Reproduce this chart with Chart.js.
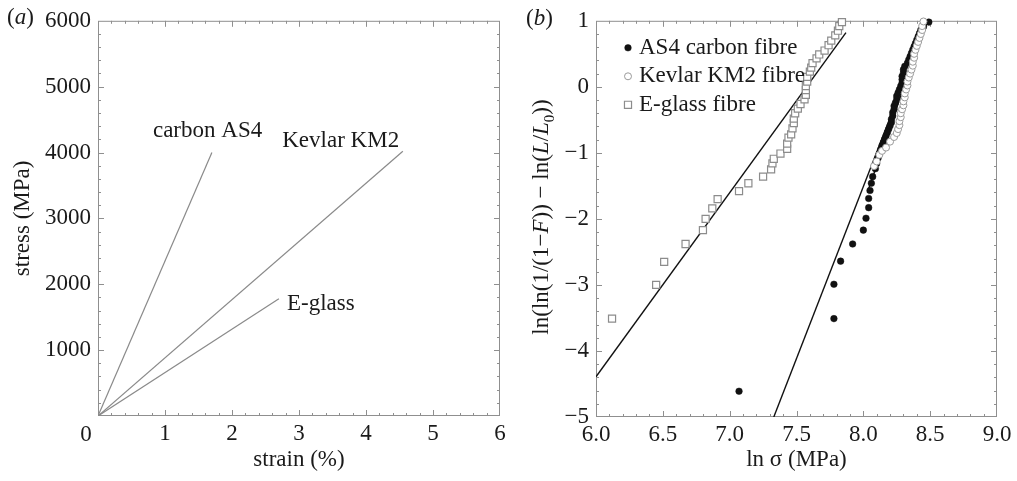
<!DOCTYPE html>
<html>
<head>
<meta charset="utf-8">
<script src="https://cdn.jsdelivr.net/npm/chart.js@4.4.0/dist/chart.umd.min.js"></script>
<style>
  body { margin: 0; background: #fff; width: 1017px; height: 481px; position: relative; overflow: hidden;
         font-family: 'Liberation Serif', serif; color: #1a1a1a; }
  canvas { position: absolute; top: 0; }
  #leftChart { left: 0; }
  #rightChart { left: 500px; }
  .tag { position: absolute; font-size: 23px; line-height: 23px; }
  #yTitleB { position: absolute; left: 545px; top: 217px; font-size: 23px; line-height: 23px; white-space: nowrap;
             transform: translate(-50%, -50%) rotate(-90deg); }
  #yTitleB sub { font-size: 15px; }
</style>
</head>
<body>
<canvas id="leftChart" width="520" height="481"></canvas>
<canvas id="rightChart" width="517" height="481"></canvas>
<div class="tag" style="left:7px;top:5px">(<i>a</i>)</div>
<div class="tag" style="left:526px;top:6px">(<i>b</i>)</div>
<div id="yTitleB">ln(ln(1/(1−<i>F</i>)) − ln(<i>L</i>/<i>L</i><sub>0</sub>))</div>
<script>
// (a) stress-strain curves
const carbonStrain = [0, 1.70];
const carbonStress = [0, 4000];
const kevlarStrain = [0, 4.55];
const kevlarStress = [0, 4020];
const glassStrain = [0, 2.70];
const glassStress = [0, 1780];
const curveNames = ['carbon AS4', 'Kevlar KM2', 'E-glass'];
const nameStrain = [0.82, 2.75, 2.82];
const nameStress = [4330, 4180, 1700];

// (b) Weibull plot, x = ln sigma, y = ln(ln(1/(1-F))) - ln(L/L0)
const as4LnS = [7.07, 7.78, 7.78, 7.83, 7.92, 8.00, 8.02, 8.04, 8.04, 8.05, 8.06, 8.07, 8.09, 8.10,
  8.11, 8.12, 8.13, 8.14, 8.15, 8.16, 8.17, 8.18, 8.19, 8.20, 8.21, 8.21, 8.22, 8.22, 8.23, 8.23,
  8.24, 8.25, 8.25, 8.26, 8.27, 8.28, 8.29, 8.29, 8.29, 8.30, 8.30, 8.31, 8.33, 8.34, 8.35, 8.36,
  8.37, 8.38, 8.39, 8.40, 8.41, 8.42, 8.43, 8.45, 8.49];
const as4W = [-4.61, -3.51, -2.99, -2.64, -2.38, -2.17, -1.99, -1.83, -1.69, -1.57, -1.46, -1.36, -1.24, -1.16,
  -1.08, -1.01, -0.95, -0.89, -0.84, -0.79, -0.74, -0.69, -0.64, -0.59, -0.54, -0.49, -0.44, -0.39, -0.34, -0.29,
  -0.24, -0.19, -0.14, -0.09, -0.04, 0.01, 0.06, 0.11, 0.16, 0.21, 0.26, 0.31, 0.36, 0.41, 0.46, 0.51,
  0.56, 0.61, 0.66, 0.71, 0.76, 0.81, 0.86, 0.91, 0.98];
const kevlarLnS = [8.08, 8.10, 8.12, 8.14, 8.17, 8.20, 8.23, 8.25, 8.26, 8.27, 8.27, 8.28, 8.28, 8.29, 8.30, 8.30,
  8.31, 8.31, 8.32, 8.33, 8.33, 8.34, 8.35, 8.36, 8.37, 8.37, 8.38, 8.38, 8.39, 8.40, 8.41, 8.42, 8.43, 8.44, 8.44, 8.45];
const kevlarW = [-1.20, -1.13, -1.03, -0.97, -0.92, -0.83, -0.76, -0.70, -0.64, -0.58, -0.52, -0.46, -0.40, -0.34, -0.28, -0.22,
  -0.16, -0.10, -0.04, 0.02, 0.08, 0.14, 0.20, 0.26, 0.32, 0.38, 0.44, 0.50, 0.56, 0.62, 0.68, 0.74, 0.80, 0.86, 0.92, 0.99];
const glassLnS = [6.12, 6.45, 6.51, 6.67, 6.80, 6.82, 6.87, 6.91, 7.07, 7.14, 7.25, 7.31, 7.32, 7.33, 7.38, 7.43,
  7.43, 7.44, 7.46, 7.47, 7.48, 7.48, 7.49, 7.51, 7.53, 7.56, 7.57, 7.57, 7.57, 7.58, 7.58, 7.60, 7.61, 7.62,
  7.65, 7.67, 7.71, 7.74, 7.76, 7.79, 7.81, 7.82, 7.84];
const glassW = [-3.51, -3.00, -2.65, -2.38, -2.17, -2.00, -1.84, -1.70, -1.58, -1.46, -1.36, -1.25, -1.16, -1.09, -1.01, -0.94,
  -0.86, -0.77, -0.72, -0.63, -0.55, -0.48, -0.40, -0.33, -0.26, -0.19, -0.12, -0.05, 0.01, 0.08, 0.15, 0.23, 0.29, 0.36,
  0.43, 0.49, 0.55, 0.63, 0.70, 0.78, 0.85, 0.92, 0.98];
// fitted lines
const as4FitX = [7.33, 8.48];
const as4FitY = [-5.0, 0.99];
const kevlarFitX = [8.03, 8.47];
const kevlarFitY = [-1.6, 0.97];
const glassFitX = [6.0, 7.87];
const glassFitY = [-4.39, 0.82];
const seriesNames = ['AS4 carbon fibre', 'Kevlar KM2 fibre', 'E-glass fibre'];

const pts = (xs, ys) => xs.map((v, i) => ({x: v, y: ys[i]}));
const FONT = "'Liberation Serif', serif";
const INK = '#1a1a1a';
const FRAME = '#8f8f8f';

Chart.defaults.font.family = FONT;
Chart.defaults.font.size = 23;
Chart.defaults.color = INK;

// frame with inward ticks on all four sides
const frameTicks = {
  id: 'frameTicks',
  beforeDatasetsDraw(chart, args, o) {
    const {ctx, chartArea: a} = chart;
    const xs = chart.scales.x, ys = chart.scales.y;
    ctx.save();
    ctx.strokeStyle = FRAME;
    ctx.lineWidth = 1;
    ctx.strokeRect(a.left + 0.5, a.top + 0.5, a.right - a.left - 1, a.bottom - a.top - 1);
    ctx.beginPath();
    const nx = Math.round((xs.max - xs.min) / o.xStep);
    for (let i = 1; i < nx; i++) {
      const px = Math.round(xs.getPixelForValue(xs.min + i * o.xStep)) + 0.5;
      const len = i % 5 === 0 ? 6 : 3;
      ctx.moveTo(px, a.bottom); ctx.lineTo(px, a.bottom - len);
      ctx.moveTo(px, a.top); ctx.lineTo(px, a.top + len);
    }
    const ny = Math.round((ys.max - ys.min) / o.yStep);
    for (let i = 1; i < ny; i++) {
      const py = Math.round(ys.getPixelForValue(ys.min + i * o.yStep)) + 0.5;
      const len = i % 5 === 0 ? 6 : 3;
      ctx.moveTo(a.left, py); ctx.lineTo(a.left + len, py);
      ctx.moveTo(a.right, py); ctx.lineTo(a.right - len, py);
    }
    ctx.stroke();
    ctx.restore();
  }
};

// curve names and the origin "0" for panel (a)
const curveNotes = {
  id: 'curveNotes',
  afterDatasetsDraw(chart) {
    const {ctx, chartArea: a, scales: {x, y}} = chart;
    ctx.save();
    ctx.font = '23px ' + FONT;
    ctx.fillStyle = INK;
    ctx.textBaseline = 'middle';
    curveNames.forEach((t, i) => ctx.fillText(t, x.getPixelForValue(nameStrain[i]), y.getPixelForValue(nameStress[i])));
    ctx.textAlign = 'center';
    ctx.fillText('0', x.getPixelForValue(0) - 12, a.bottom + 19);
    ctx.restore();
  }
};

// legend inside the plot for panel (b)
const insideLegend = {
  id: 'insideLegend',
  afterDraw(chart) {
    const {ctx, chartArea: a} = chart;
    ctx.save();
    ctx.font = '23px ' + FONT;
    ctx.textBaseline = 'middle';
    chart.data.datasets.filter(d => d.inLegend).forEach((d, i) => {
      const yy = a.top + 27 + i * 28.5;
      ctx.fillStyle = d.backgroundColor;
      ctx.strokeStyle = d.borderColor;
      ctx.lineWidth = d.borderWidth;
      Chart.helpers.drawPoint(ctx, {pointStyle: d.pointStyle, radius: d.pointRadius, rotation: 0, borderWidth: d.borderWidth}, a.left + 32, yy);
      ctx.fillStyle = INK;
      ctx.fillText(d.label, a.left + 43, yy);
    });
    ctx.restore();
  }
};

const curve = (label, xs, ys) => ({
  label, data: pts(xs, ys), showLine: true, borderColor: '#8a8a8a', borderWidth: 1.2, pointRadius: 0
});

new Chart(document.getElementById('leftChart'), {
  type: 'scatter',
  data: {
    datasets: [
      curve(curveNames[0], carbonStrain, carbonStress),
      curve(curveNames[1], kevlarStrain, kevlarStress),
      curve(curveNames[2], glassStrain, glassStress)
    ]
  },
  options: {
    responsive: false,
    animation: false,
    events: [],
    layout: {padding: {top: 15, right: 20, bottom: 0, left: 0}},
    plugins: {legend: {display: false}, tooltip: {enabled: false}, frameTicks: {xStep: 0.2, yStep: 200}},
    scales: {
      x: {
        type: 'linear', min: 0, max: 6,
        grid: {display: false, drawTicks: false}, border: {display: false},
        ticks: {stepSize: 1, padding: 4, maxRotation: 0, autoSkip: false, callback: v => v === 0 ? '' : String(v)},
        title: {display: true, text: 'strain (%)', padding: {top: 0, bottom: 7}},
        afterFit: s => { s.height = 65; }
      },
      y: {
        min: 0, max: 6000,
        grid: {display: false, drawTicks: false}, border: {display: false},
        ticks: {stepSize: 1000, padding: 7, callback: v => v === 0 ? '' : String(v)},
        title: {display: true, text: 'stress (MPa)', padding: {top: 9, bottom: 0}},
        afterFit: s => { s.width = 98; }
      }
    }
  },
  plugins: [frameTicks, curveNotes]
});

const fit = (xs, ys) => ({
  data: pts(xs, ys), showLine: true, borderColor: '#111', borderWidth: 1.4, pointRadius: 0, order: 5
});

new Chart(document.getElementById('rightChart'), {
  type: 'scatter',
  data: {
    datasets: [
      {label: seriesNames[0], data: pts(as4LnS, as4W), inLegend: true, pointStyle: 'circle', pointRadius: 3.3,
       backgroundColor: '#111', borderColor: '#111', borderWidth: 0.5, order: 2, clip: false},
      {label: seriesNames[1], data: pts(kevlarLnS, kevlarW), inLegend: true, pointStyle: 'circle', pointRadius: 3.5,
       backgroundColor: '#fff', borderColor: '#9a9a9a', borderWidth: 1, order: 1, clip: false},
      {label: seriesNames[2], data: pts(glassLnS, glassW), inLegend: true, pointStyle: 'rect', pointRadius: 5,
       backgroundColor: '#fff', borderColor: '#8c8c8c', borderWidth: 1.2, order: 0, clip: false},
      fit(as4FitX, as4FitY),
      fit(kevlarFitX, kevlarFitY),
      fit(glassFitX, glassFitY)
    ]
  },
  options: {
    responsive: false,
    animation: false,
    events: [],
    layout: {padding: {top: 15, right: 20, bottom: 0, left: 0}},
    plugins: {legend: {display: false}, tooltip: {enabled: false}, frameTicks: {xStep: 0.1, yStep: 0.2}},
    scales: {
      x: {
        type: 'linear', min: 6, max: 9,
        grid: {display: false, drawTicks: false}, border: {display: false},
        ticks: {stepSize: 0.5, padding: 4, maxRotation: 0, autoSkip: false, callback: v => v.toFixed(1)},
        title: {display: true, text: 'ln σ (MPa)', padding: {top: 0, bottom: 7}},
        afterFit: s => { s.height = 64; }
      },
      y: {
        min: -5, max: 1,
        grid: {display: false, drawTicks: false}, border: {display: false},
        ticks: {stepSize: 1, padding: 7, callback: v => String(v).replace('-', '−')},
        title: {display: false},
        afterFit: s => { s.width = 96; }
      }
    }
  },
  plugins: [frameTicks, insideLegend]
});
</script>
</body>
</html>
